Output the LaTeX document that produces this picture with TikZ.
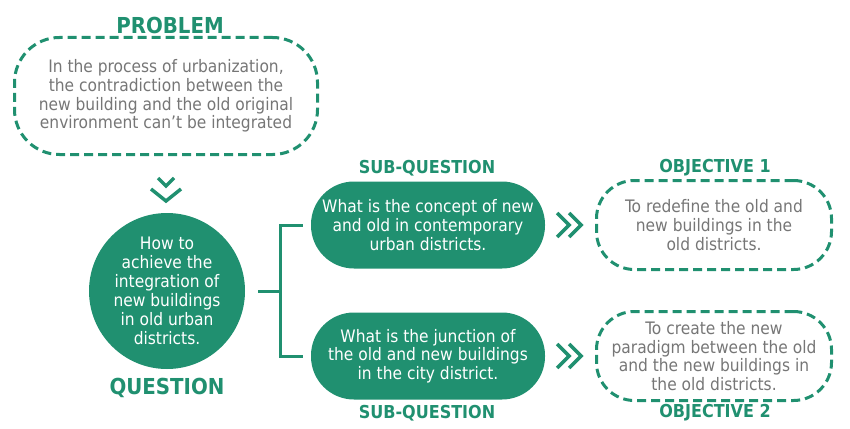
\documentclass[tikz,border=0pt]{standalone}
\usepackage{fontspec}
\setmainfont{DejaVu Sans Condensed}
\usepackage{tikz}
\usetikzlibrary{calc}

\definecolor{leaf}{RGB}{32,144,112}
\definecolor{inkgray}{RGB}{118,118,118}

\tikzset{
	boxtxt/.style={align=center, inner sep=0pt, font=\fontsize{17.2}{18.6}\selectfont},
	dashbox/.style={boxtxt, draw=leaf, line width=3pt, dash pattern=on 9pt off 5pt, text=inkgray},
	pillbox/.style={boxtxt, fill=leaf, text=white},
	headline/.style={text=leaf, font=\fontsize{17.8}{20}\selectfont\bfseries},
	link/.style={draw=leaf, line width=3pt},
	chev/.style={draw=leaf, line width=3.5pt},
}

\begin{document}
\begin{tikzpicture}[x=1pt,y=-1pt]
			\useasboundingbox (0,0) rectangle (850,428);
			% problem
			\node[headline, font=\fontsize{22}{24}\selectfont\bfseries] (probtitle) at (170,25) {PROBLEM};
			\node[dashbox, minimum width=303pt, minimum height=117pt, rounded corners=45pt] (prob) at (166,96)
				{In the process of urbanization,\\the contradiction between the\\new building and the old original\\environment can’t be integrated};
			\draw[chev] (158,178) -- (166,186) -- (174,178);
			\draw[chev] (151,189) -- (166,201) -- (181,189);
			% question
			\node[pillbox, circle, inner sep=-4pt, minimum size=156pt, font=\fontsize{17.2}{19}\selectfont] (quest) at (167,291)
				{How to\\achieve the\\integration of\\new buildings\\in old urban\\districts.};
			\node[headline, font=\fontsize{22}{24}\selectfont\bfseries] (questtitle) at (167,388) {QUESTION};
			% sub-questions
			\node[pillbox, minimum width=234pt, minimum height=87pt, rounded corners=43pt] (sq1) at (428,225)
				{What is the concept of new\\and old in contemporary\\urban districts.};
			\node[pillbox, minimum width=234pt, minimum height=87pt, rounded corners=43pt] (sq2) at (428,356)
				{What is the junction of\\the old and new buildings\\in the city district.};
			\node[headline] (sqtitle1) at (427,168) {SUB-QUESTION};
			\node[headline] (sqtitle2) at (427,413) {SUB-QUESTION};
			% objectives
			\node[dashbox, minimum width=235pt, minimum height=89pt, rounded corners=38pt] (obj1) at (714,225)
				{To redefine the old and\\new buildings in the\\old districts.};
			\node[dashbox, minimum width=235pt, minimum height=89pt, rounded corners=38pt] (obj2) at (714,356)
				{To create the new\\paradigm between the old\\and the new buildings in\\the old districts.};
			\node[headline] (objtitle1) at (715,168) {OBJECTIVE 1};
			\node[headline] (objtitle2) at (715,413) {OBJECTIVE 2};
			% bracket
			\coordinate (brk) at (280,291);
			\draw[link, shorten <=13pt] (quest.east) -- (brk);
			\draw[link, shorten <=8pt, shorten >=8pt] (sq1.west) -| (brk) |- (sq2.west);
			\foreach \a/\b in {sq1/obj1,sq2/obj2}
			{
				\coordinate (mid) at ($(\a.east)!0.5!(\b.west)$);
				\foreach \d in {-13,-1}
					\draw[chev] ([shift={(\d,-12)}]mid) -- ([shift={(\d+12,0)}]mid) -- ([shift={(\d,12)}]mid);
			}
		\end{tikzpicture}
\end{document}
